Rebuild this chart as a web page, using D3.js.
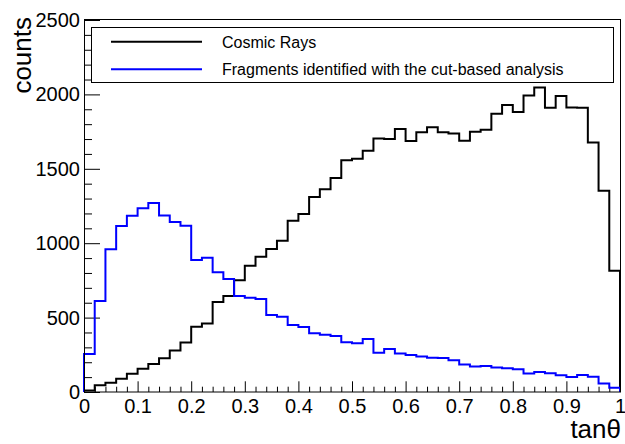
<!DOCTYPE html>
<html>
<head>
<meta charset="utf-8">
<script src="https://cdn.jsdelivr.net/npm/d3@7"></script>
<style>
  html, body { margin: 0; padding: 0; background: #fff; }
  svg { display: block; font-family: "Liberation Sans", Arial, sans-serif; }
</style>
</head>
<body>
<svg id="chart" width="625" height="444"></svg>
<script>
// ---- data ----
const binLow = 0, binHigh = 1, nBins = 50;
const cosmicRays = [10, 45, 62, 89, 123, 156, 189, 227, 279, 332,
  439, 461, 605, 645, 751, 849, 909, 961, 1017, 1151,
  1196, 1310, 1362, 1438, 1558, 1568, 1621, 1703, 1700, 1768,
  1686, 1745, 1780, 1745, 1738, 1689, 1749, 1763, 1870, 1928,
  1882, 1992, 2046, 1910, 1990, 1912, 1910, 1676, 1352, 815];
const fragments = [256, 611, 960, 1115, 1184, 1235, 1270, 1186, 1143, 1117,
  887, 902, 805, 759, 646, 634, 625, 517, 506, 450,
  437, 394, 385, 376, 335, 328, 356, 264, 289, 259,
  248, 239, 230, 229, 214, 185, 171, 175, 165, 159,
  153, 124, 135, 126, 112, 101, 115, 102, 57, 28];
const xTicks = [0, 0.1, 0.2, 0.3, 0.4, 0.5, 0.6, 0.7, 0.8, 0.9, 1];
const xTickLabels = ["0", "0.1", "0.2", "0.3", "0.4", "0.5", "0.6", "0.7", "0.8", "0.9", "1"];
const yTicks = [0, 500, 1000, 1500, 2000, 2500];
const seriesNames = ["Cosmic Rays", "Fragments identified with the cut-based analysis"];
const seriesColors = ["#000000", "#0000ff"];
const xTitle = "tan\u03b8", yTitle = "counts";

// ---- layout ----
const svg = d3.select("#chart");
const L = 84, R = 620, T = 20, B = 392;
const x = d3.scaleLinear().domain([binLow, binHigh]).range([L, R]);
const y = d3.scaleLinear().domain([0, 2500]).range([B, T]);
const binW = (binHigh - binLow) / nBins;

// minor ticks
const xMinor = d3.range(0, nBins + 1).map(i => binLow + i * binW).filter(v => !xTicks.some(t => Math.abs(t - v) < 1e-9));
const yMinor = d3.range(0, 2501, 100).filter(v => v % 500 !== 0);

const gx = svg.append("g").attr("transform", `translate(0,${B})`)
  .call(d3.axisBottom(x).tickValues(xTicks).tickFormat((d, i) => xTickLabels[i]).tickSizeInner(-10.7).tickSizeOuter(0).tickPadding(7));
svg.append("g").attr("transform", `translate(0,${B})`)
  .call(d3.axisBottom(x).tickValues(xMinor).tickFormat("").tickSizeInner(-5.3).tickSizeOuter(0));
const gy = svg.append("g").attr("transform", `translate(${L},0)`)
  .call(d3.axisLeft(y).tickValues(yTicks).tickFormat(d3.format("d")).tickSizeInner(-16).tickSizeOuter(0).tickPadding(4));
svg.append("g").attr("transform", `translate(${L},0)`)
  .call(d3.axisLeft(y).tickValues(yMinor).tickFormat("").tickSizeInner(-8).tickSizeOuter(0));

svg.selectAll(".domain").remove();
svg.selectAll(".tick line").attr("stroke", "#000").attr("stroke-width", 1);
svg.selectAll(".tick text").attr("font-size", 20).attr("fill", "#000")
  .attr("font-family", "Liberation Sans, Arial, sans-serif");

// histograms
function stepPath(vals) {
  const p = d3.path();
  p.moveTo(x(binLow), y(0));
  vals.forEach((v, i) => {
    const x0 = x(binLow + i * binW), x1 = x(binLow + (i + 1) * binW);
    p.lineTo(x0, y(v));
    p.lineTo(x1, y(v));
  });
  p.lineTo(x(binHigh), y(0));
  return p.toString();
}
[cosmicRays, fragments].forEach((vals, k) => {
  svg.append("path").attr("d", stepPath(vals))
    .attr("fill", "none").attr("stroke", seriesColors[k]).attr("stroke-width", 2)
    .attr("stroke-linejoin", "miter");
});

// frame
svg.append("rect").attr("x", L + 0.5).attr("y", T - 0.5).attr("width", R - L).attr("height", B - T + 0.5)
  .attr("fill", "none").attr("stroke", "#000").attr("stroke-width", 1);

// legend
const lg = svg.append("g");
lg.append("rect").attr("x", 91.5).attr("y", 27.5).attr("width", 522).attr("height", 55)
  .attr("fill", "#fff").attr("stroke", "#000").attr("stroke-width", 1);
const legY = [41.7, 69.3];
seriesNames.forEach((name, k) => {
  lg.append("line").attr("x1", 111).attr("x2", 202).attr("y1", legY[k]).attr("y2", legY[k])
    .attr("stroke", seriesColors[k]).attr("stroke-width", 2);
  lg.append("text").attr("x", 222).attr("y", legY[k] + 5.8).attr("font-size", 16).attr("fill", "#000").text(name);
});

// axis titles
svg.append("text").attr("x", 621).attr("y", 438).attr("text-anchor", "end")
  .attr("font-size", 26).attr("fill", "#000").text(xTitle);
svg.append("text").attr("transform", "translate(31,17) rotate(-90)").attr("text-anchor", "end")
  .attr("font-size", 26).attr("fill", "#000").text(yTitle);
</script>
</body>
</html>
